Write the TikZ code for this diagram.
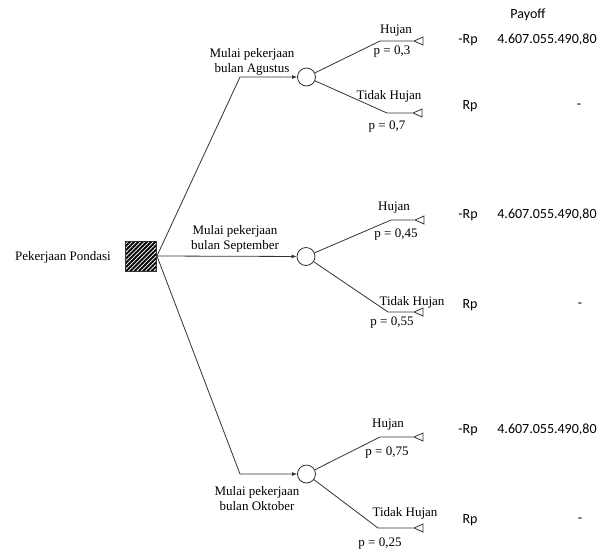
\documentclass[tikz,border=0pt]{standalone}
\usepackage{fontspec}
\setmainfont{Liberation Serif}
\newfontfamily\payfont{Carlito}
\usepackage{tikz}
\usetikzlibrary{arrows.meta,shapes.geometric,patterns.meta}
\definecolor{treeline}{gray}{0.2}

\begin{document}
\begin{tikzpicture}[x=1pt,y=-1pt,
  every node/.style={font=\fontsize{13}{15}\selectfont,inner sep=0pt},
  lbl/.style={align=center},
  pay/.style={font=\payfont\fontsize{14}{16}\selectfont},
  decision/.style={draw,minimum width=31pt,minimum height=30pt,
    pattern={Lines[angle=45,distance=3pt,line width=1.9pt]}},
  chance/.style={draw,circle,minimum size=18pt,fill=white},
  term/.style={draw,isosceles triangle,shape border rotate=180,
    isosceles triangle stretches,minimum width=8pt,minimum height=9pt},
  >={Latex[length=5pt,width=4pt]}
]
  \useasboundingbox (0,0) rectangle (606,550);
  \tikzset{every path/.style={line width=0.8pt,draw=treeline}}

  % decision
  \node[decision] (dec) at (140.5,256) {};
  \node (pond) at (63,257) {Pekerjaan Pondasi};

  % chance nodes
  \node[chance] (agu) at (306.5,77) {};
  \node[chance] (sep) at (306,256.5) {};
  \node[chance] (okt) at (306.5,474) {};

  \coordinate (kagu) at (240,77);
  \coordinate (kokt) at (240,474);

  \node[lbl] (lagu) at (252,62) {Mulai pekerjaan\\bulan Agustus};
  \node[lbl] (lsep) at (235,239) {Mulai pekerjaan\\bulan September};
  \node[lbl] (lokt) at (257,499) {Mulai pekerjaan\\bulan Oktober};

  % end points
  \node[term,anchor=apex] (tagu1) at (413,41) {};
  \node[term,anchor=apex] (tagu2) at (412,113) {};
  \node[term,anchor=apex] (tsep1) at (414,220) {};
  \node[term,anchor=apex] (tsep2) at (413,312) {};
  \node[term,anchor=apex] (tokt1) at (413,437) {};
  \node[term,anchor=apex] (tokt2) at (413,528) {};

  \coordinate (bagu1) at (380,41);
  \coordinate (bagu2) at (387,113);
  \coordinate (bsep1) at (391,220);
  \coordinate (bsep2) at (388,312);
  \coordinate (bokt1) at (380,437);
  \coordinate (bokt2) at (378,528);

  % branch labels
  \node (hagu1) at (396,31) {Hujan};
  \node (pagu1) at (392,52) {p = 0,3};
  \node (hagu2) at (389,96) {Tidak Hujan};
  \node (pagu2) at (387,127) {p = 0,7};
  \node (hsep1) at (394,208) {Hujan};
  \node (psep1) at (396,235) {p = 0,45};
  \node (hsep2) at (412,302) {Tidak Hujan};
  \node (psep2) at (392,323) {p = 0,55};
  \node (hokt1) at (388,425) {Hujan};
  \node (pokt1) at (387,453) {p = 0,75};
  \node (hokt2) at (405,513) {Tidak Hujan};
  \node (pokt2) at (380,544) {p = 0,25};

  % payoff column
  \node[pay] (payoff) at (528,15) {Payoff};
  \node[pay] (rpagu1) at (468,40) {-Rp};
  \node[pay] (vagu1) at (547,40) {4.607.055.490,80};
  \node[pay] (rpagu2) at (470,106) {Rp};
  \node[pay] (vagu2) at (579,106) {-};
  \node[pay] (rpsep1) at (468,215) {-Rp};
  \node[pay] (vsep1) at (547,215) {4.607.055.490,80};
  \node[pay] (rpsep2) at (470,305) {Rp};
  \node[pay] (vsep2) at (580,305) {-};
  \node[pay] (rpokt1) at (468,430) {-Rp};
  \node[pay] (vokt1) at (547,430) {4.607.055.490,80};
  \node[pay] (rpokt2) at (470,520) {Rp};
  \node[pay] (vokt2) at (580,520) {-};

  \draw[->] (dec.east) -- (kagu) -- (agu);
  \draw[->] (dec.east) -- (sep);
  \draw[->] (dec.east) -- (kokt) -- (okt);
  \draw (agu) -- (bagu1) -- (tagu1.apex);
  \draw (agu) -- (bagu2) -- (tagu2.apex);
  \draw (sep) -- (bsep1) -- (tsep1.apex);
  \draw (sep) -- (bsep2) -- (tsep2.apex);
  \draw (okt) -- (bokt1) -- (tokt1.apex);
  \draw (okt) -- (bokt2) -- (tokt2.apex);
\end{tikzpicture}
\end{document}
